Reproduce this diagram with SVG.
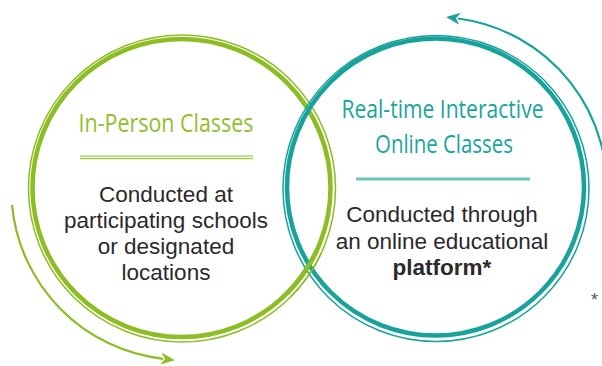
<svg xmlns="http://www.w3.org/2000/svg" width="602" height="366" viewBox="0 0 602 366">
<defs>
<style>
.g{fill:none;stroke:#8cbd23}
.t{fill:none;stroke:#17a29b}
.title{font-family:"Open Sans","Liberation Sans",sans-serif;font-size:26px;text-anchor:middle}
.body{font-family:"Liberation Sans","Noto Sans",sans-serif;font-size:22.5px;fill:#2a2a2a;text-anchor:middle}
</style>
<marker id="ag" markerUnits="userSpaceOnUse" markerWidth="14" markerHeight="14" refX="2" refY="7" orient="auto" viewBox="0 0 14 14">
<path d="M0,1 L14,7 L0,13 L4,7 Z" fill="#8cbd23"/>
</marker>
<marker id="at" markerUnits="userSpaceOnUse" markerWidth="14" markerHeight="14" refX="2" refY="7" orient="auto" viewBox="0 0 14 14">
<path d="M0,1 L14,7 L0,13 L4,7 Z" fill="#17a29b"/>
</marker>
</defs>
<g id="connectors">
<path class="g" stroke-width="2.2" d="M12,205 A171,171 0 0 0 163,358.8" marker-end="url(#ag)"/>
<path class="t" stroke-width="2.2" d="M606,206 A171,171 0 0 0 458,18.5" marker-end="url(#at)"/>
</g>
<g id="in-person">
<circle class="g" cx="182" cy="188.5" r="153.5" stroke-width="1.5"/>
<circle class="g" cx="181.5" cy="188" r="149" stroke-width="4.5"/>
</g>
<g id="online">
<circle class="t" cx="436" cy="188.5" r="153" stroke-width="1.5"/>
<circle class="t" cx="435.5" cy="187" r="148.5" stroke-width="4.5"/>
</g>
<g id="weave">
<path class="g" stroke-width="4.5" d="M316.5,251 A149,149 0 0 1 286.9,293.4"/>
<path class="g" stroke-width="1.5" d="M321.3,253.4 A153.5,153.5 0 0 1 290.5,297"/>
</g>
<g id="in-person-text">
<text class="title" x="166" y="132" fill="#8fbf2e" textLength="175" lengthAdjust="spacingAndGlyphs">In-Person Classes</text>
<rect x="80" y="155.5" width="173" height="1.2" fill="#9cc93a"/>
<rect x="80" y="158" width="173" height="1.2" fill="#9cc93a"/>
<text class="body" x="166" y="202">Conducted at</text>
<text class="body" x="166" y="228">participating schools</text>
<text class="body" x="166" y="254">or designated</text>
<text class="body" x="166" y="280">locations</text>
</g>
<g id="online-text">
<text class="title" x="442.5" y="118" fill="#1aa59c" textLength="202" lengthAdjust="spacingAndGlyphs">Real-time Interactive</text>
<text class="title" x="444" y="153" fill="#1aa59c" textLength="138" lengthAdjust="spacingAndGlyphs">Online Classes</text>
<rect x="356" y="177.5" width="174" height="3" fill="#6cc6bf"/>
<text class="body" x="442" y="222">Conducted through</text>
<text class="body" x="442" y="249">an online educational</text>
<text class="body" x="442" y="275" font-weight="bold">platform*</text>
<text x="591" y="306" font-family="Liberation Sans,sans-serif" font-size="18" fill="#555">*</text>
</g>
</svg>
